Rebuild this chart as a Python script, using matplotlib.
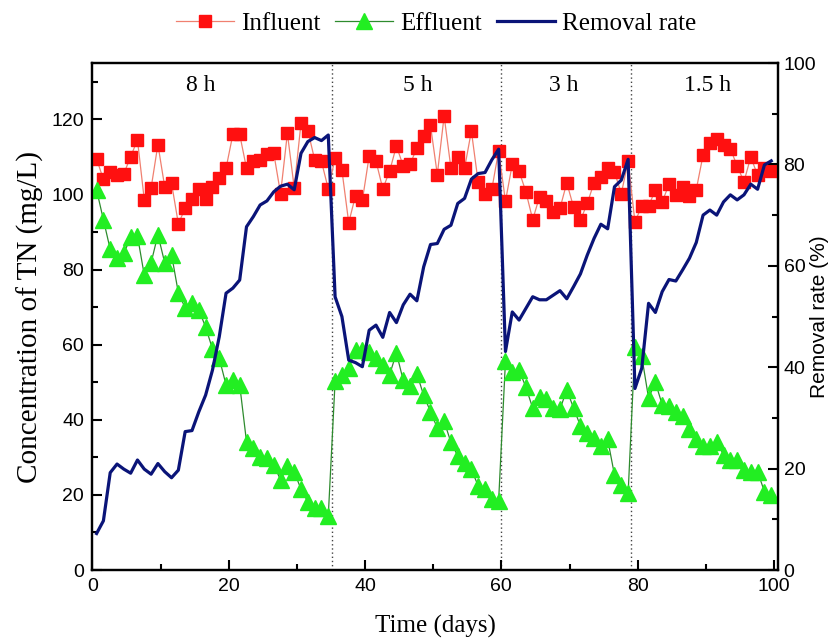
import numpy as np
import matplotlib
matplotlib.use('Agg')
import matplotlib.pyplot as plt
from matplotlib.ticker import MultipleLocator

# ---------------- data ----------------
days = np.arange(1, 101) - 0.4

influent = [109.5, 104.0, 106.1, 105.3, 105.5, 110.1, 114.5, 98.6, 101.7, 113.3,
            102.0, 103.0, 92.2, 96.3, 98.7, 101.4, 98.9, 101.9, 104.5, 107.0,
            116.0, 116.0, 107.0, 109.0, 109.3, 110.7, 111.0, 100.2, 116.3, 101.8,
            119.0, 117.0, 109.3, 108.8, 101.5, 109.6, 106.5, 92.5, 99.7, 98.4,
            110.2, 108.9, 101.5, 106.2, 112.9, 107.6, 108.0, 112.4, 115.6, 118.4,
            105.3, 120.9, 107.0, 110.0, 107.0, 116.9, 103.2, 100.1, 101.4, 111.6,
            98.2, 108.0, 106.2, 100.7, 93.3, 99.4, 98.2, 95.3, 96.3, 103.1,
            96.6, 93.1, 97.6, 103.1, 104.7, 107.1, 106.0, 100.2, 108.9, 92.7,
            96.9, 96.9, 101.2, 98.0, 102.7, 99.8, 102.1, 99.6, 101.3, 110.5,
            113.8, 114.7, 113.3, 112.2, 107.6, 103.4, 110.0, 105.1, 107.1, 106.2]

effluent = [101.2, 93.3, 85.4, 83.2, 84.3, 88.6, 89.0, 78.5, 81.8, 89.3,
            81.8, 84.0, 73.8, 69.8, 71.1, 69.3, 64.7, 58.9, 56.4, 49.3,
            50.7, 49.3, 34.2, 32.4, 30.2, 29.8, 28.0, 24.0, 27.6, 26.2,
            21.5, 18.2, 16.4, 16.6, 14.4, 50.2, 52.0, 53.8, 58.7, 58.7,
            58.0, 56.4, 54.7, 52.0, 57.8, 50.5, 49.1, 52.3, 46.5, 42.2,
            37.8, 39.6, 34.0, 30.4, 28.6, 26.8, 22.4, 21.5, 18.8, 18.5,
            55.6, 52.8, 53.2, 48.7, 43.1, 46.2, 45.5, 43.1, 42.8, 48.0,
            43.1, 38.4, 36.4, 35.1, 32.9, 34.8, 25.3, 22.7, 20.4, 59.5,
            56.9, 45.8, 50.0, 44.0, 43.6, 42.2, 40.9, 37.5, 34.8, 32.9,
            32.9, 34.2, 30.7, 29.3, 29.3, 26.7, 26.2, 26.2, 20.9, 20.0]

removal = [7.2, 9.7, 19.2, 20.9, 19.9, 19.1, 21.7, 19.9, 18.9, 21.0,
           19.4, 18.2, 19.7, 27.3, 27.5, 31.2, 34.5, 39.4, 46.0, 54.6,
           55.6, 57.2, 67.7, 69.7, 72.0, 72.8, 74.6, 75.7, 76.1, 75.0,
           82.2, 84.5, 85.3, 84.7, 85.8, 53.9, 50.0, 41.4, 40.9, 40.1,
           47.3, 48.3, 45.9, 50.8, 48.8, 52.3, 54.4, 53.1, 59.8, 64.2,
           64.4, 67.2, 68.0, 72.3, 73.3, 77.1, 78.2, 78.4, 80.9, 83.0,
           43.1, 50.9, 49.3, 51.6, 53.9, 53.3, 53.3, 54.2, 55.1, 53.5,
           55.9, 58.4, 62.1, 65.4, 68.2, 67.3, 75.6, 76.9, 81.0, 35.8,
           39.8, 52.6, 50.8, 54.9, 57.3, 57.0, 59.2, 61.5, 64.6, 70.0,
           71.0, 70.0, 72.6, 74.0, 73.0, 74.0, 76.1, 75.1, 79.9, 80.7]

phase_bounds = [35.2, 60, 79]
phase_labels = ['8 h', '5 h', '3 h', '1.5 h']
phase_label_x = [15.9, 47.8, 69.2, 90.2]
phase_label_y = 129.0

serif = ['Liberation Serif', 'DejaVu Serif']
sans = ['Liberation Sans', 'DejaVu Sans']

# ---------------- figure ----------------
fig = plt.figure(figsize=(8.34, 6.43), dpi=100)
ax = fig.add_axes([0.1109, 0.1135, 0.822, 0.7885])
ax2 = ax.twinx()

l1, = ax.plot(days, influent, color='#F08070', lw=0.9, marker='s', ms=9,
              mfc='#FF1010', mec='#FF1010', label='Influent', zorder=3)
l2, = ax.plot(days, effluent, color='#2E8B2E', lw=0.9, marker='^', ms=11,
              mfc='#22EE22', mec='#22EE22', label='Effluent', zorder=3)
l3, = ax2.plot(days, removal, color='#0A1478', lw=2.3, label='Removal rate', zorder=4)

for xb in phase_bounds:
    ax.axvline(xb, color='#444444', lw=1.0, ls=(0, (1, 2)), zorder=1)

for lab, xl in zip(phase_labels, phase_label_x):
    ax.text(xl, phase_label_y, lab, ha='center', va='center', fontsize=17,
            family=serif)

ax.set_xlim(0, 100.6)
ax.set_ylim(0, 135)
ax2.set_ylim(0, 100)

ax.xaxis.set_major_locator(MultipleLocator(20))
ax.xaxis.set_minor_locator(MultipleLocator(10))
ax.yaxis.set_major_locator(MultipleLocator(20))
ax.yaxis.set_minor_locator(MultipleLocator(10))
ax2.yaxis.set_major_locator(MultipleLocator(20))
ax2.yaxis.set_minor_locator(MultipleLocator(10))

for a in (ax, ax2):
    a.tick_params(which='major', direction='in', length=7, width=1.5, pad=6,
                  labelsize=14)
    a.tick_params(which='minor', direction='in', length=4, width=1.5)
    for sp in a.spines.values():
        sp.set_linewidth(1.6)
    for t in a.get_xticklabels() + a.get_yticklabels():
        t.set_family(sans)
ax2.tick_params(which='major', pad=4)

ax.set_xlabel('Time (days)', fontsize=18, family=serif, labelpad=14)
ax.set_ylabel('Concentration of TN (mg/L)', fontsize=21, family=serif,
              rotation=90, va='center', ha='center')
ax.yaxis.set_label_coords(-0.091, 0.5)
ax2.set_ylabel('Removal rate (%)', fontsize=15, family=sans,
               rotation=90, va='center', ha='center')
ax2.yaxis.set_label_coords(1.061, 0.5)

fig.legend([l1, l2, l3], ['Influent', 'Effluent', 'Removal rate'],
           loc='center', bbox_to_anchor=(0.523, 0.963), ncol=3, frameon=False,
           prop={'family': serif, 'size': 18}, handlelength=2.3,
           handletextpad=0.3, columnspacing=0.6, numpoints=1)

fig.savefig('out.png', dpi=100)
